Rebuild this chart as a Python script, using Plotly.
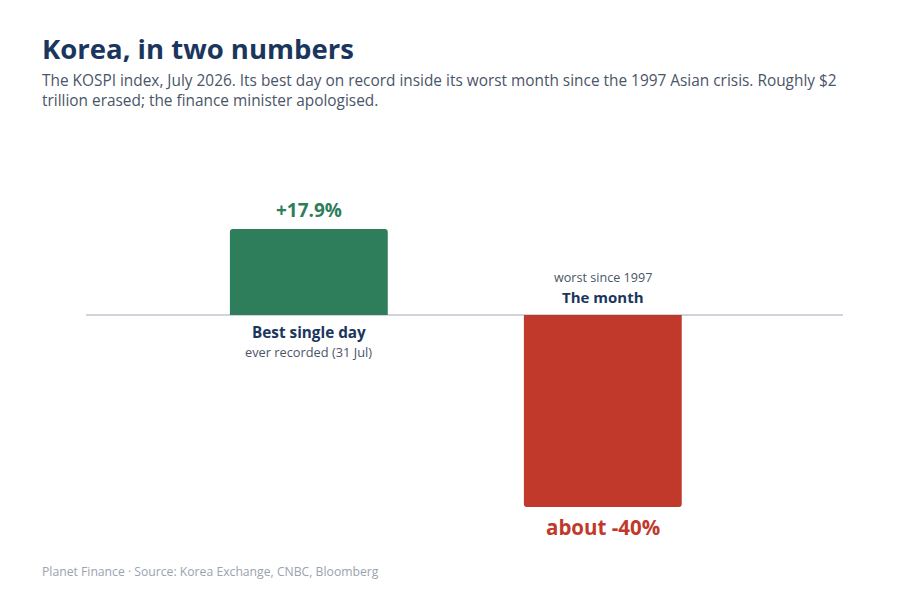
import plotly.graph_objects as go

categories = ["Best single day", "The month"]
values = [17.9, -40.0]
value_labels = ["+17.9%", "about -40%"]
sublabels = ["ever recorded (31 Jul)", "worst since 1997"]
colors = ["#2e7d5b", "#c0392b"]
x_pos = [0, 1]

FONT = "Open Sans"
NAVY = "#1b365d"
SUBGRAY = "#4a5568"

W, H = 906, 608
OFF = 8  # page body margin
ML, MR, MT, MB = 86 - OFF, W - 843 + OFF, 170 - OFF, H - 540 + OFF
pw, ph = W - ML - MR, H - MT - MB


def px_to_paper(x, y):
    x -= OFF
    y -= OFF
    return (x - ML) / pw, (H - MB - y) / ph


fig = go.Figure()
fig.add_trace(go.Bar(
    x=x_pos, y=values, width=0.537,
    marker=dict(color=colors, line=dict(width=0)),
    hoverinfo="skip",
))

ann = []
value_sizes = [19, 20.5]
for x, v, lab, c, s in zip(x_pos, values, value_labels, colors, value_sizes):
    ann.append(dict(x=x, y=v, xref="x", yref="y", text=f"<b>{lab}</b>",
                    showarrow=False, yshift=19 if v > 0 else -20,
                    font=dict(family=FONT, size=s, color=c)))
for x, v, cat, sub in zip(x_pos, values, categories, sublabels):
    if v > 0:
        ann.append(dict(x=x, y=0, xref="x", yref="y", text=f"<b>{cat}</b>",
                        showarrow=False, yshift=-17,
                        font=dict(family=FONT, size=15.3, color=NAVY)))
        ann.append(dict(x=x, y=0, xref="x", yref="y", text=sub,
                        showarrow=False, yshift=-37,
                        font=dict(family=FONT, size=12.8, color=SUBGRAY)))
    else:
        ann.append(dict(x=x, y=0, xref="x", yref="y", text=f"<b>{cat}</b>",
                        showarrow=False, yshift=18,
                        font=dict(family=FONT, size=15, color=NAVY)))
        ann.append(dict(x=x, y=0, xref="x", yref="y", text=sub,
                        showarrow=False, yshift=38,
                        font=dict(family=FONT, size=12.6, color=SUBGRAY)))

tx, ty = px_to_paper(40, 48)
ann.append(dict(x=tx, y=ty, xref="paper", yref="paper", text="<b>Korea, in two numbers</b>",
                showarrow=False, xanchor="left", yanchor="middle",
                font=dict(family=FONT, size=27.5, color=NAVY)))
sx, sy = px_to_paper(40, 90)
ann.append(dict(x=sx, y=sy, xref="paper", yref="paper",
                text="The KOSPI index, July 2026. Its best day on record inside its worst month since the 1997 Asian crisis. Roughly $2<br>trillion erased; the finance minister apologised.",
                showarrow=False, xanchor="left", yanchor="middle", align="left",
                font=dict(family=FONT, size=15.4, color=SUBGRAY)))
fx, fy = px_to_paper(40, 571)
ann.append(dict(x=fx, y=fy, xref="paper", yref="paper",
                text="Planet Finance · Source: Korea Exchange, CNBC, Bloomberg",
                showarrow=False, xanchor="left", yanchor="middle",
                font=dict(family=FONT, size=12.2, color="#9aa3af")))

fig.update_layout(
    width=W, height=H,
    margin=dict(l=ML, r=MR, t=MT, b=MB, pad=0),
    paper_bgcolor="white", plot_bgcolor="white",
    showlegend=False,
    barcornerradius=3,
    xaxis=dict(range=[-0.758, 1.817], visible=False, fixedrange=True),
    yaxis=dict(range=[-46.875, 30.208], showgrid=False, showticklabels=False,
               zeroline=True, zerolinecolor="#d0d5dd", zerolinewidth=1.5, fixedrange=True),
    annotations=ann,
)

fig.write_html("out.html")
